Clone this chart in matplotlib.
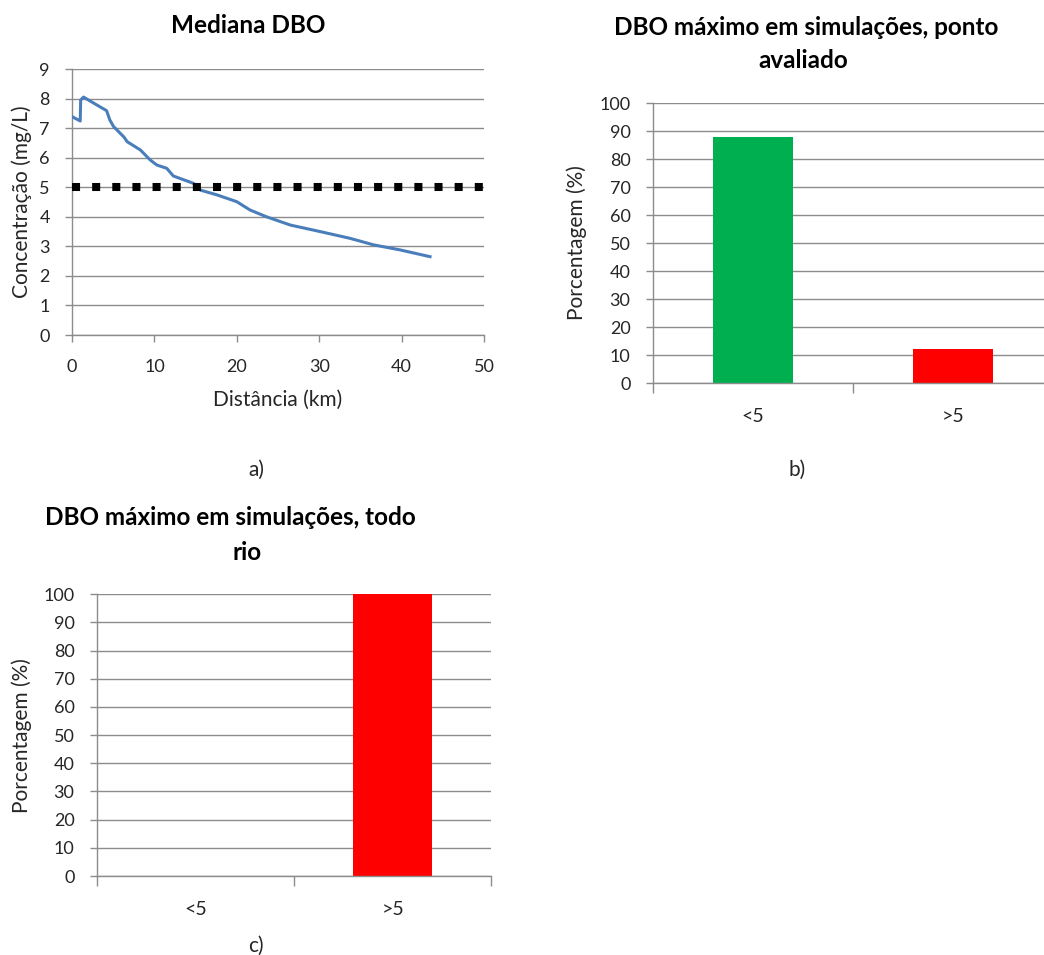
import matplotlib

matplotlib.use("Agg")
import matplotlib.pyplot as plt

plt.rcParams["font.family"] = ["Lato", "DejaVu Sans"]

W, H = 1044, 955

# median BOD profile along the river
dist_km = [0.0, 1.0, 1.05, 1.4, 2.0, 3.4, 4.2, 4.6, 5.05, 6.3, 6.7, 8.3, 9.5,
           10.3, 11.5, 12.3, 14.75, 15.6, 17.6, 20.0, 21.6, 23.6, 26.5,
           30.1, 33.75, 36.6, 39.8, 43.45]
dbo_mediana = [7.39, 7.24, 7.95, 8.05, 7.95, 7.72, 7.59, 7.27, 7.05, 6.7, 6.54,
               6.26, 5.92, 5.75, 5.64, 5.38, 5.13, 4.9, 4.74, 4.51, 4.23, 4.0,
               3.72, 3.5, 3.27, 3.05, 2.88, 2.65]
limite_x = [0, 50]
limite_dbo = [5, 5]

categorias = ["<5", ">5"]
pct_ponto = [88, 12]
pct_rio = [0, 100]
cores_barras = ["#00b050", "#ff0000"]

GRID = "#8c8c8c"
TXT = "#262626"
FS_TICK = 13
FS_LABEL = 15
FS_TITLE = 17.5


def place(left, top, right, bottom):
    return [left / W, 1 - bottom / H, (right - left) / W, (bottom - top) / H]


def style_axes(ax):
    for side in ("top", "right"):
        ax.spines[side].set_visible(False)
    for side in ("left", "bottom"):
        ax.spines[side].set_color(GRID)
        ax.spines[side].set_linewidth(1.0)
    ax.yaxis.grid(True, color=GRID, linewidth=1.0)
    ax.set_axisbelow(True)
    ax.tick_params(axis="both", direction="out", color=GRID, width=1.0,
                   labelsize=FS_TICK, labelcolor=TXT)
    ax.tick_params(axis="y", length=5, pad=11)


def bar_panel(ax, values):
    style_axes(ax)
    x = range(len(categorias))
    ax.bar(x, values, width=0.4, color=cores_barras, zorder=2)
    ax.set_xlim(-0.5, 1.5)
    ax.set_ylim(0, 100)
    ax.set_yticks(range(0, 101, 10))
    ax.set_xticks([-0.5, 0.5, 1.5])
    ax.set_xticklabels([])
    ax.set_xticks(list(x), minor=True)
    ax.set_xticklabels(categorias, minor=True)
    ax.tick_params(axis="x", which="major", length=7)
    ax.tick_params(axis="x", which="minor", length=0, pad=18,
                   labelsize=14, labelcolor=TXT)
    ax.set_ylabel("Porcentagem (%)", fontsize=FS_LABEL, color=TXT)
    ax.yaxis.set_label_coords(-0.164, 0.5)


fig = plt.figure(figsize=(W / 100, H / 100), dpi=100)

# a) median profile
ax_a = fig.add_axes(place(72, 69, 484, 335))
style_axes(ax_a)
ax_a.plot(dist_km, dbo_mediana, color="#4a7ebb", linewidth=2.2, zorder=3)
ax_a.plot(limite_x, limite_dbo, color="black", linewidth=5.8,
          linestyle=(0, (1, 1.5)), dash_capstyle="butt", zorder=3)
ax_a.set_xlim(0, 50)
ax_a.set_ylim(0, 9)
ax_a.set_yticks(range(0, 10))
ax_a.set_xticks(range(0, 51, 10))
ax_a.tick_params(axis="x", length=5, pad=12)
ax_a.set_xlabel("Distância (km)", fontsize=FS_LABEL, color=TXT)
ax_a.set_ylabel("Concentração (mg/L)", fontsize=FS_LABEL, color=TXT)
ax_a.xaxis.set_label_coords(0.5, -0.205)
ax_a.yaxis.set_label_coords(-0.097, 0.5)

# b) maximum at the evaluated point
ax_b = fig.add_axes(place(652.7, 103, 1052.7, 383))
bar_panel(ax_b, pct_ponto)

# c) maximum along the whole river
ax_c = fig.add_axes(place(96.7, 594.3, 491.3, 876))
bar_panel(ax_c, pct_rio)

titulo = dict(fontsize=FS_TITLE, fontweight="bold", color="black",
              ha="center", va="baseline")
fig.text(248 / W, 1 - 33 / H, "Mediana DBO", **titulo)
fig.text(806 / W, 1 - 35 / H, "DBO máximo em simulações, ponto", **titulo)
fig.text(803 / W, 1 - 68 / H, "avaliado", **titulo)
fig.text(230 / W, 1 - 525 / H, "DBO máximo em simulações, todo", **titulo)
fig.text(247 / W, 1 - 560 / H, "rio", **titulo)

rotulo = dict(fontsize=15, color=TXT, ha="center", va="center")
fig.text(256 / W, 1 - 470 / H, "a)", **rotulo)
fig.text(797 / W, 1 - 470 / H, "b)", **rotulo)
fig.text(256 / W, 1 - 946 / H, "c)", **rotulo)

fig.savefig("out.png", dpi=100, facecolor="white")
